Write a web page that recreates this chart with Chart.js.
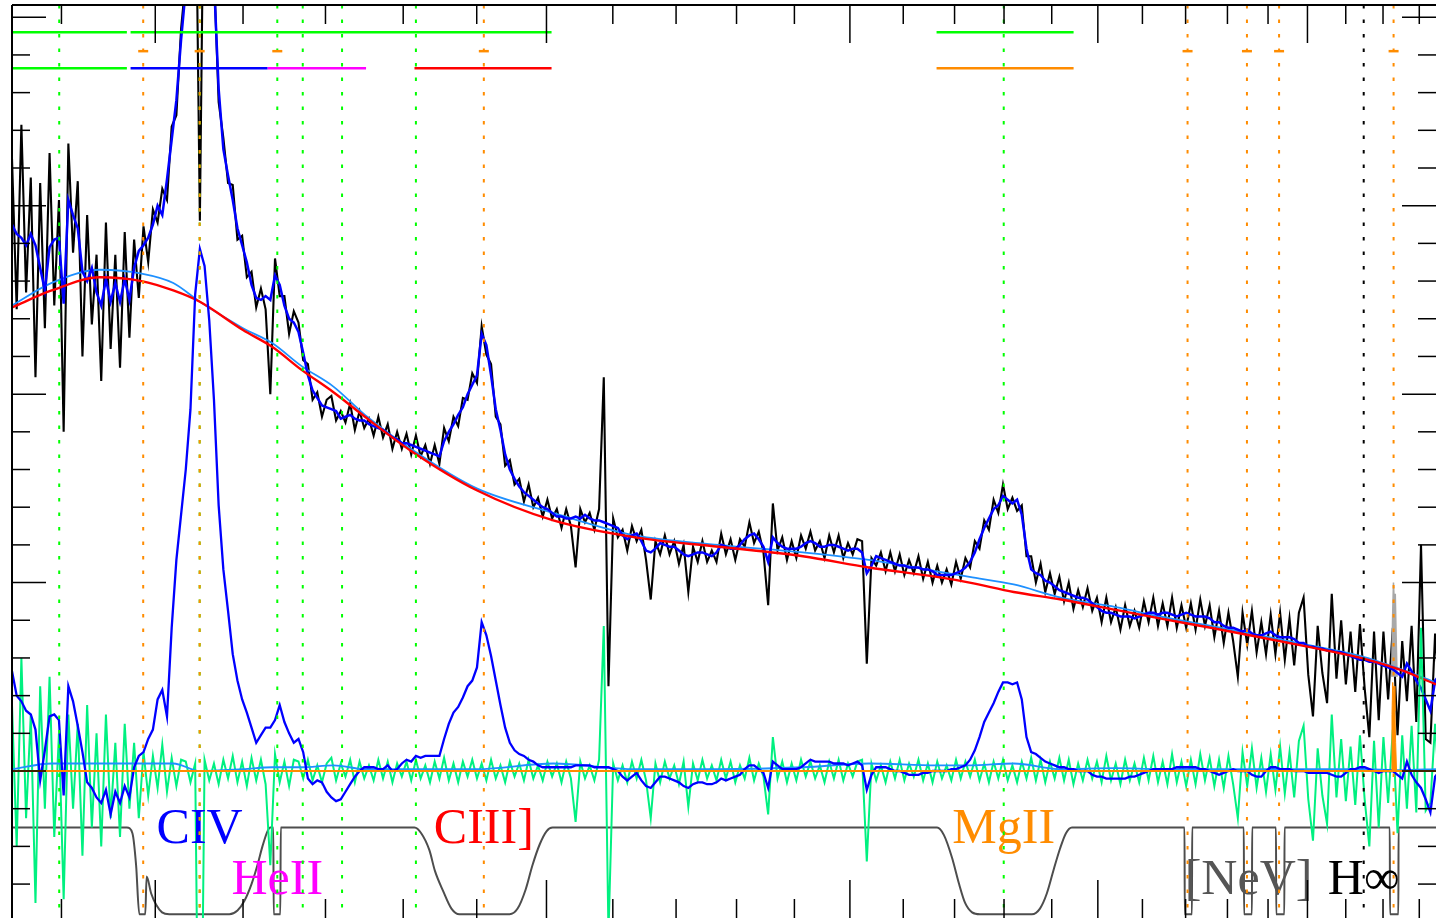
<!DOCTYPE html>
<html>
<head>
<meta charset="utf-8">
<script src="https://cdn.jsdelivr.net/npm/chart.js@4.4.1/dist/chart.umd.min.js"></script>
<style>
html, body { margin: 0; padding: 0; background: #fff; }
#wrap { width: 1436px; height: 918px; position: relative; }
</style>
</head>
<body>
<div id="wrap"><canvas id="spec"></canvas></div>
<script>
// spectrum sampling: log10(lambda_obs) = loglamStart + i * loglamStep
var loglamStart = Math.log10(2700);
var loglamStep = 0.0015;
var redshift = 1.001;

// total model (blue), one value per sample
var modelFlux = [
  29.0, 28.5, 28.3, 27.9, 28.5, 27.9, 26.7, 25.5, 27.8, 28.2,
  28.3, 24.8, 30.3, 29.5, 28.8, 26.5, 26.0, 26.7, 25.4, 24.7,
  26.1, 24.9, 25.9, 24.9, 26.1, 25.0, 26.7, 27.6, 27.9, 28.3,
  29.0, 30.0, 29.5, 31.4, 33.5, 35.6, 38.8, 41.5, 45.0, 50.0,
  52.8, 51.5, 48.5, 42.0, 36.2, 33.0, 31.6, 30.3, 28.8, 27.9,
  27.0, 25.8, 25.1, 25.0, 25.2, 25.0, 26.3, 25.8, 24.7, 24.0,
  23.8, 23.3, 22.2, 21.0, 20.2, 19.8, 19.4, 19.3, 19.2, 19.1,
  18.7, 18.8, 18.9, 18.7, 18.6, 18.6, 18.4, 18.3, 18.2, 18.1,
  17.9, 17.7, 17.6, 17.4, 17.4, 17.3, 17.2, 17.1, 17.0, 16.9,
  16.8, 16.7, 17.5, 18.0, 18.4, 18.9, 19.3, 20.0, 20.5, 21.0,
  23.2, 22.6, 21.0, 19.2, 18.1, 16.8, 16.0, 15.5, 15.1, 14.8,
  14.6, 14.4, 14.2, 14.0, 13.9, 13.7, 13.5, 13.5, 13.4, 13.4,
  13.5, 13.4, 13.6, 13.4, 13.3, 13.3, 13.2, 13.1, 13.0, 12.9,
  12.5, 12.3, 12.5, 12.6, 12.2, 11.7, 11.6, 11.8, 12.1, 12.0,
  11.9, 11.9, 11.7, 11.5, 11.4, 11.5, 11.6, 11.6, 11.5, 11.4,
  11.6, 12.0, 11.9, 11.8, 11.8, 12.0, 12.3, 12.5, 12.6, 12.3,
  11.9, 11.1, 12.4, 12.1, 11.9, 11.8, 11.8, 11.8, 11.9, 12.1,
  12.2, 12.1, 11.9, 11.9, 12.0, 12.0, 11.9, 11.8, 11.7, 11.8,
  11.8, 11.6, 10.5, 10.9, 11.4, 11.3, 11.2, 11.1, 11.0, 10.9,
  10.9, 10.8, 10.8, 10.8, 10.7, 10.7, 10.6, 10.4, 10.4, 10.4,
  10.4, 10.5, 10.6, 10.8, 11.1, 11.6, 12.3, 12.9, 13.4, 13.9,
  14.1, 14.6, 14.4, 14.2, 14.4, 13.6, 11.8, 10.7, 10.5, 10.4,
  10.1, 10.0, 9.8, 9.6, 9.5, 9.4, 9.3, 9.2, 9.2, 9.1,
  8.9, 8.7, 8.5, 8.4, 8.4, 8.3, 8.2, 8.2, 8.2, 8.1,
  8.2, 8.3, 8.4, 8.4, 8.3, 8.4, 8.4, 8.3, 8.2, 8.3,
  8.4, 8.3, 8.2, 8.2, 8.2, 8.1, 7.9, 7.9, 7.7, 7.6,
  7.6, 7.5, 7.4, 7.5, 7.3, 7.2, 7.2, 7.3, 7.4, 7.2,
  7.1, 7.1, 7.1, 7.0, 6.8, 6.8, 6.6, 6.6, 6.5, 6.5,
  6.4, 6.4, 6.3, 6.3, 6.2, 6.1, 6.0, 5.9, 5.9, 5.8,
  5.8, 5.7, 5.6, 5.5, 5.4, 5.2, 5.0, 5.7, 5.3, 4.8,
  4.4, 3.8, 3.2, 4.8, 5.1
];

// residual data - model (green), same sampling
var residFlux = [
  3.5, -4.0, 6.0, -2.5, 3.0, -7.0, 4.5, -2.0, 5.0, -3.5,
  2.0, -6.8, 3.0, -2.0, 2.5, -4.5, 3.5, -3.0, 2.0, -4.0,
  3.0, -2.5, 1.5, -3.5, 2.5, -2.0, 1.5, -2.5, 1.0, -1.3,
  0.8, -0.9, 1.4, -1.1, 0.7, -0.8, 0.6, 0.5, -0.6, 0.4,
  -23.6, 0.6, -0.5, 0.4, -0.7, 0.6, -0.4, 0.8, -0.6, 0.5,
  -0.8, 0.7, -0.5, 0.6, -0.7, -5.0, 0.9, -0.6, 0.5, -0.8,
  0.6, 0.5, -0.4, 0.6, -0.5, 0.3, -0.6, 0.4, 0.7, -0.5,
  0.4, -0.3, 0.6, -0.6, 0.5, -0.4, 0.3, -0.5, 0.6, -0.4,
  0.5, -0.6, 0.4, -0.3, 0.5, -0.5, 0.6, -0.4, 0.3, -0.6,
  0.5, -0.4, 0.7, -0.5, 0.4, -0.6, 0.5, -0.3, 0.6, -0.4,
  0.4, -0.5, 0.6, -0.4, 0.3, -0.6, 0.5, -0.3, 0.4, -0.5,
  0.6, -0.4, 0.3, -0.5, 0.5, -0.3, 0.4, -0.6, 0.5, -0.4,
  -2.7, 0.5, -0.4, 0.3, -0.5, 0.6, 7.7, -8.6, 0.4, -0.5,
  0.3, -0.6, 0.5, -0.4, 0.6, -0.5, -2.5, 0.4, -0.6, 0.5,
  -0.4, 0.3, -0.7, 0.5, -1.9, 0.4, -0.5, 0.6, -0.4, 0.3,
  -0.5, 0.6, -0.4, 0.5, -0.6, 0.3, -0.4, 0.7, -0.5, 0.4,
  -0.3, -2.3, 1.8, -0.4, 0.5, -0.6, 0.4, -0.5, 0.6, -0.3,
  0.5, -0.4, 0.3, -0.6, 0.5, -0.4, 0.6, -0.5, 0.4, -0.3,
  0.5, 0.6, -4.8, 0.4, -0.5, 0.3, -0.6, 0.5, -0.4, 0.6,
  -0.5, 0.4, -0.3, 0.6, -0.5, 0.4, -0.6, 0.5, -0.4, 0.3,
  -0.5, 0.6, -0.4, 0.5, -0.3, 0.6, -0.5, 0.4, -0.6, 0.5,
  -0.4, 0.6, -0.5, 0.3, -0.6, 0.5, -0.4, 0.7, -0.5, 0.6,
  -0.6, 0.5, -0.4, 0.7, -0.5, 0.6, -0.7, 0.4, -0.5, 0.6,
  -0.4, 0.5, -0.6, 0.8, -0.5, 0.4, -0.7, 0.6, -0.5, 0.4,
  -0.6, 0.7, -0.5, 0.8, -0.6, 0.5, -0.7, 0.9, -0.6, 0.5,
  -0.8, 0.6, -0.7, 0.9, -0.5, 0.7, -0.8, 0.6, -0.9, 0.8,
  -0.7, -2.5, 1.0, -0.8, 1.2, -0.9, 0.7, -1.1, 0.9, -1.0,
  1.3, -1.2, 1.0, -1.4, 1.6, 2.4, -1.5, -3.7, 1.2, -1.3,
  -2.8, 3.0, -1.4, 1.7, -1.6, 1.3, -1.8, 1.9, -1.5, -4.0,
  1.6, -3.0, 1.8, -1.7, 2.2, -3.3, 1.9, -2.0, 2.4, -2.2,
  7.6, -2.1, -1.7, 2.5, -1.5
];

// emission-line component of the model (blue, bottom), same sampling
var lineFlux = [
  5.3, 4.0, 3.7, 3.2, 3.0, 2.2, -0.5, 1.1, 2.9, 3.0,
  2.7, -1.3, 4.5, 3.7, 2.4, 1.0, -0.6, -0.9, -1.4, -1.7,
  -1.0, -2.3, -1.1, -1.7, -0.8, -1.4, 0.2, 0.8, 1.0, 1.7,
  2.2, 3.8, 4.3, 2.9, 7.6, 11.2, 13.6, 16.0, 19.2, 25.3,
  27.7, 26.8, 23.9, 19.7, 14.1, 10.7, 8.5, 6.2, 4.8, 3.8,
  3.1, 2.3, 1.5, 1.9, 2.3, 2.3, 2.7, 3.5, 2.6, 2.0,
  1.5, 1.7, 1.0, -0.4, -0.7, -0.5, -0.6, -1.1, -1.4, -1.6,
  -1.5, -1.1, -0.7, -0.3, 0.0, 0.2, 0.2, 0.2, 0.1, 0.1,
  0.3, 0.0, 0.1, 0.4, 0.6, 0.5, 0.8, 0.7, 0.8, 0.8,
  0.8, 0.8, 1.7, 2.5, 3.1, 3.4, 3.9, 4.5, 4.8, 5.5,
  7.9, 7.2, 6.1, 4.8, 3.5, 2.3, 1.5, 1.1, 0.9, 0.8,
  0.6, 0.5, 0.3, 0.2, 0.2, 0.2, 0.2, 0.2, 0.2, 0.2,
  0.3, 0.3, 0.3, 0.3, 0.2, 0.2, 0.2, 0.2, 0.1, 0.0,
  -0.3, -0.5, -0.3, -0.1, -0.5, -0.8, -0.9, -0.6, -0.3, -0.3,
  -0.4, -0.5, -0.6, -0.8, -0.9, -0.7, -0.6, -0.6, -0.7, -0.7,
  -0.6, -0.4, -0.5, -0.4, -0.3, -0.2, 0.1, 0.3, 0.3, 0.1,
  -0.1, -0.9, 0.5, 0.3, 0.1, 0.1, 0.1, 0.1, 0.2, 0.4,
  0.6, 0.5, 0.5, 0.5, 0.5, 0.4, 0.4, 0.4, 0.3, 0.4,
  0.5, 0.3, -1.0, -0.2, 0.2, 0.2, 0.2, 0.1, 0.0, 0.0,
  -0.1, -0.2, -0.2, -0.2, -0.1, -0.1, 0.0, 0.0, 0.0, 0.0,
  0.1, 0.1, 0.2, 0.3, 0.6, 1.1, 1.8, 2.6, 3.1, 3.6,
  4.2, 4.7, 4.7, 4.6, 4.7, 3.8, 1.8, 1.0, 0.9, 0.7,
  0.5, 0.4, 0.3, 0.2, 0.2, 0.1, 0.1, 0.0, 0.0, 0.0,
  -0.2, -0.3, -0.3, -0.4, -0.4, -0.4, -0.4, -0.4, -0.3, -0.3,
  -0.2, -0.1, 0.0, 0.1, 0.1, 0.1, 0.1, 0.1, 0.2, 0.2,
  0.2, 0.2, 0.2, 0.1, 0.1, 0.0, -0.1, -0.2, -0.1, 0.0,
  0.1, 0.0, 0.0, 0.0, -0.2, -0.3, -0.3, 0.0, 0.2, 0.2,
  0.1, 0.1, 0.1, 0.0, 0.0, 0.0, -0.1, -0.1, -0.1, -0.1,
  -0.1, -0.2, -0.3, -0.3, -0.1, 0.1, 0.1, 0.2, 0.2, 0.1,
  0.0, -0.1, 0.0, 0.0, 0.0, -0.2, -0.4, 0.5, -0.2, -0.6,
  -0.9, -1.5, -2.2, -0.3, 0.0
];

// power-law continuum (red) and continuum + FeII (light blue)
var contWave = [2700, 2780, 2880, 2970, 3040, 3100, 3200, 3270, 3340, 3420, 3500, 3620, 3800, 4020, 4270,
  4540, 4830, 5070, 5330, 5460, 5640, 5840, 6080, 6280, 6520, 6760, 7000, 7280, 7500, 7694];
var contFlux = [24.6, 25.5, 26.2, 26.0, 25.5, 24.9, 23.4, 22.5, 21.3, 20.1, 18.8, 17.0, 14.9, 13.3, 12.4,
  11.9, 11.4, 10.8, 10.3, 10.0, 9.5, 9.1, 8.55, 8.1, 7.6, 7.1, 6.6, 6.0, 5.35, 4.6];
var contFeFlux = [24.7, 25.9, 26.6, 26.4, 25.9, 24.9, 23.5, 22.7, 21.5, 20.4, 18.9, 17.1, 15.0, 13.7, 12.5,
  12.0, 11.6, 11.2, 10.6, 10.3, 9.9, 9.2, 8.7, 8.2, 7.7, 7.2, 6.7, 6.1, 5.4, 4.7];

// line mask (grey)
var maskWave = [2700, 2938, 2950, 2958, 2965, 2978, 2981, 2991, 3002, 3015, 3031, 3168, 3187, 3203, 3220,
  3234, 3246, 3258, 3265, 3272, 3273, 3289, 3290, 3630, 3648, 3670, 3685, 3708, 3730, 3752, 3893, 3916,
  3939, 3959, 3980, 4000, 4018, 5331, 5358, 5390, 5418, 5442, 5470, 5502, 5716, 5750, 5779, 5809, 5836,
  5861, 5887, 6395, 6396, 6430, 6431, 6680, 6681, 6720, 6721, 6840, 6841, 6882, 6883, 7437, 7438, 7484,
  7485, 7694];
var maskFlux = [-3.0, -3.0, -3.3, -5.0, -7.6, -7.6, -5.6, -6.5, -7.1, -7.5, -7.6, -7.6, -7.4, -6.9, -6.0,
  -5.0, -4.0, -3.2, -3.0, -3.0, -7.6, -7.6, -3.0, -3.0, -3.3, -4.2, -5.3, -6.4, -7.3, -7.6, -7.6, -7.3,
  -6.3, -5.0, -3.9, -3.2, -3.0, -3.0, -3.4, -4.6, -6.0, -7.0, -7.5, -7.6, -7.6, -7.3, -6.5, -5.2, -4.1,
  -3.3, -3.0, -3.0, -7.6, -7.6, -3.0, -3.0, -7.6, -7.6, -3.0, -3.0, -7.6, -7.6, -3.0, -3.0, -7.6, -7.6,
  -3.0, -3.0];

// [OII] region: masked pixels (grey) and narrow-line fit (orange)
var oiiWave = [7447, 7452, 7457, 7462, 7467, 7472, 7477];
var oiiGrayFlux = [5.0, 8.0, 10.0, 8.8, 9.4, 7.0, 5.0];
var oiiFitWave = [7445, 7449, 7453, 7457, 7461, 7465, 7469, 7474];
var oiiFitFlux = [0, 3.0, 4.7, 3.9, 4.5, 3.2, 1.5, 0];

// rest-frame line positions
var greenLines = [1397, 1549, 1640, 1671, 1720, 1816, 2798];
var orangeLines = [1486, 1549, 1909, 3203, 3346, 3426, 3727];
var blackLines = [3646];
var dashLines = [1486, 1549, 1640, 1909, 3203, 3346, 3426, 3727];
var dashLevel = 38.2;

// fitting windows (observed wavelength)
var windowStart = [2700, 2946, 5329, 2700, 2946, 3258, 3630, 5329];
var windowEnd = [2938, 4015, 5894, 2938, 3258, 3503, 4015, 5894];
var windowLevel = [39.2, 39.2, 39.2, 37.3, 37.3, 37.3, 37.3, 37.3];
var windowColor = ['#00ff00', '#00ff00', '#00ff00', '#00ff00', '#0000ff', '#ff00ff', '#ff0000', '#ff8c00'];

var labelText = ['CIV', 'HeII', 'CIII]', 'MgII', '[NeV]', 'H\u221e'];
var labelRest = [1549, 1640, 1909, 2798, 3350, 3646];
var labelBase = [-3.8, -6.5, -3.8, -3.8, -6.5, -6.5];
var labelColor = ['#0000ff', '#ff00ff', '#ff0000', '#ff8c00', '#555555', '#000000'];

var xTicks = [2800, 3000, 3200, 3400, 3600, 3800, 4000, 4200, 4400, 4600, 4800, 5000, 5200, 5400, 5600,
  5800, 6000, 6200, 6400, 6600, 6800, 7000, 7200, 7400, 7600];
var yTicks = [-6, -4, -2, 0, 2, 4, 6, 8, 10, 12, 14, 16, 18, 20, 22, 24, 26, 28, 30, 32, 34, 36, 38, 40];

var waves = modelFlux.map(function (v, i) { return Math.pow(10, loglamStart + i * loglamStep); });
var dataFlux = modelFlux.map(function (v, i) { return v + residFlux[i]; });
var feFlux = contFeFlux.map(function (v, i) { return v - contFlux[i]; });

function pts(xs, ys) {
  return xs.map(function (w, i) { return { x: w, y: ys[i] }; });
}

function line(data, color, width, order, extra) {
  var ds = {
    data: data, borderColor: color, borderWidth: width, order: order,
    pointRadius: 0, tension: 0, fill: false
  };
  for (var k in extra) ds[k] = extra[k];
  return ds;
}

var datasets = [
  line(pts(maskWave, maskFlux), '#4d4d4d', 2, 10, { cubicInterpolationMode: 'monotone' }),
  line(pts(waves, dataFlux), '#000000', 2.1, 9),
  line(pts(oiiWave, oiiGrayFlux), '#a8a8a8', 1.5, 8.5, { fill: { value: 5 }, backgroundColor: '#a8a8a8' }),
  line(pts(contWave, contFeFlux), '#1e90ff', 1.8, 8, { cubicInterpolationMode: 'monotone' }),
  line(pts(waves, modelFlux), '#0000ff', 2.5, 7),
  line(pts(contWave, contFlux), '#ff0000', 2.4, 6, { cubicInterpolationMode: 'monotone' }),
  line(pts(waves, residFlux), '#00f080', 2, 5),
  line(pts(contWave, feFlux), '#1e90ff', 1.8, 4, { cubicInterpolationMode: 'monotone' }),
  line(pts(waves, lineFlux), '#0000ff', 2.3, 3),
  line([{ x: 2700, y: 0 }, { x: 7694, y: 0 }], '#ff8c00', 2, 2),
  line(pts(oiiFitWave, oiiFitFlux), '#ff8c00', 1, 1, { fill: 'origin', backgroundColor: '#ff8c00' })
];
windowStart.forEach(function (w, i) {
  datasets.push(line([{ x: w, y: windowLevel[i] }, { x: windowEnd[i], y: windowLevel[i] }],
    windowColor[i], 2.5, 0));
});

var frame = {
  id: 'frame',
  afterDatasetsDraw: function (chart) {
    var ctx = chart.ctx, a = chart.chartArea, x = chart.scales.x, y = chart.scales.y;
    function seg(x0, y0, x1, y1) {
      ctx.beginPath(); ctx.moveTo(x0, y0); ctx.lineTo(x1, y1); ctx.stroke();
    }
    ctx.save();

    // line names
    ctx.font = "50px 'Liberation Serif'";
    ctx.textAlign = 'center';
    ctx.textBaseline = 'alphabetic';
    labelText.forEach(function (t, i) {
      ctx.fillStyle = labelColor[i];
      ctx.fillText(t, x.getPixelForValue(labelRest[i] * (1 + redshift)), y.getPixelForValue(labelBase[i]));
    });

    // line markers
    ctx.lineWidth = 2;
    ctx.setLineDash([3.5, 11]);
    function vlines(color, rests) {
      ctx.strokeStyle = color;
      rests.forEach(function (r) {
        var px = x.getPixelForValue(r * (1 + redshift));
        seg(px, a.top, px, a.bottom);
      });
    }
    vlines('#00ff00', greenLines);
    vlines('#ff8c00', orangeLines);
    vlines('#000000', blackLines);

    ctx.setLineDash([]);
    ctx.strokeStyle = '#ff8c00';
    ctx.lineWidth = 2.5;
    dashLines.forEach(function (r) {
      var px = x.getPixelForValue(r * (1 + redshift)), py = y.getPixelForValue(dashLevel);
      seg(px - 5, py, px + 5, py);
    });

    // ticks and frame
    ctx.strokeStyle = '#000000';
    ctx.lineWidth = 1.5;
    xTicks.forEach(function (w) {
      var px = x.getPixelForValue(w), len = (w % 1000 === 0) ? 38 : 19;
      seg(px, a.top, px, a.top + len);
      seg(px, a.bottom, px, a.bottom - len);
    });
    yTicks.forEach(function (v) {
      var py = y.getPixelForValue(v), len = (v % 10 === 0) ? 34 : 18;
      seg(a.left, py, a.left + len, py);
      seg(a.right, py, a.right - len, py);
    });
    ctx.lineWidth = 2;
    seg(a.left, a.top, a.right, a.top);
    seg(a.left, a.top, a.left, a.bottom);
    ctx.restore();
  }
};

new Chart(document.getElementById('spec'), {
  type: 'line',
  data: { datasets: datasets },
  options: {
    responsive: true,
    maintainAspectRatio: false,
    animation: false,
    events: [],
    parsing: false,
    layout: { padding: { left: 12, top: 5, right: 0, bottom: 0 } },
    plugins: { legend: { display: false }, tooltip: { enabled: false } },
    scales: {
      x: { type: 'logarithmic', min: 2700, max: 7694, display: false },
      y: { type: 'linear', min: -7.8, max: 40.65, display: false }
    }
  },
  plugins: [frame]
});
</script>
</body>
</html>
